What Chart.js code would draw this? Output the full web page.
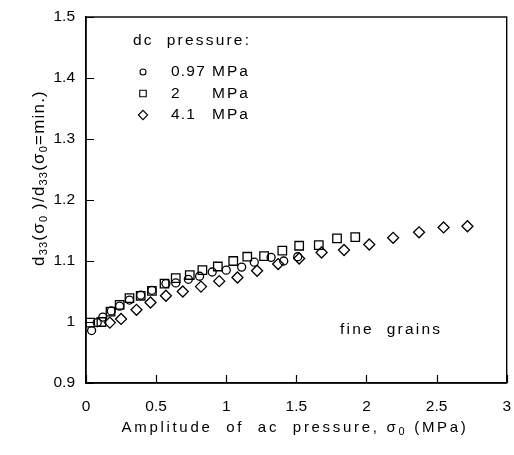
<!DOCTYPE html>
<html>
<head>
<meta charset="utf-8">
<script src="https://cdn.jsdelivr.net/npm/chart.js@4.4.1/dist/chart.umd.min.js"></script>
<style>
  html, body { margin: 0; padding: 0; background: #fff; }
</style>
</head>
<body>
<canvas id="chart" width="514" height="455"></canvas>
<script>
// dc pressure 0.97 MPa (circles)
const ac097 = [0.04, 0.08, 0.12, 0.18, 0.24, 0.31, 0.39, 0.47, 0.57, 0.64, 0.73, 0.81, 0.90, 1.00, 1.11, 1.20, 1.32, 1.41, 1.51];
const d097 = [0.986, 0.999, 1.008, 1.018, 1.026, 1.036, 1.044, 1.052, 1.063, 1.064, 1.070, 1.075, 1.082, 1.085, 1.090, 1.098, 1.106, 1.100, 1.107];

// dc pressure 2 MPa (squares)
const ac2 = [0.03, 0.11, 0.175, 0.24, 0.31, 0.39, 0.47, 0.56, 0.64, 0.74, 0.83, 0.94, 1.05, 1.15, 1.27, 1.40, 1.52, 1.66, 1.79, 1.92];
const d2 = [0.999, 1.000, 1.017, 1.028, 1.039, 1.043, 1.051, 1.063, 1.072, 1.077, 1.085, 1.091, 1.100, 1.107, 1.108, 1.117, 1.125, 1.126, 1.137, 1.139];

// dc pressure 4.1 MPa (diamonds)
const ac41 = [0.17, 0.25, 0.36, 0.46, 0.57, 0.69, 0.82, 0.95, 1.08, 1.22, 1.37, 1.52, 1.68, 1.84, 2.02, 2.19, 2.375, 2.55, 2.72];
const d41 = [0.999, 1.005, 1.020, 1.032, 1.043, 1.050, 1.058, 1.067, 1.073, 1.084, 1.095, 1.104, 1.114, 1.118, 1.127, 1.138, 1.147, 1.155, 1.157];

const seriesLabels = ['0.97 MPa', '2 MPa', '4.1 MPa'];
const xTicks = [0, 0.5, 1, 1.5, 2, 2.5, 3];
const yTicks = [0.9, 1, 1.1, 1.2, 1.3, 1.4, 1.5];

const FONT = "'Liberation Sans', Arial, Helvetica, sans-serif";
const INK = '#000';

function toPoints(xs, ys) {
  return xs.map((x, i) => ({ x: x, y: ys[i] }));
}

// draw a line of text made of normal and subscript pieces, centred on (x, y)
function drawRuns(ctx, runs, x, y, angle, size, subSize, spacing) {
  ctx.save();
  ctx.translate(x, y);
  ctx.rotate(angle);
  ctx.fillStyle = INK;
  ctx.textAlign = 'left';
  ctx.textBaseline = 'alphabetic';
  ctx.letterSpacing = spacing + 'px';
  let total = 0;
  runs.forEach(r => {
    ctx.font = (r.sub ? subSize : size) + 'px ' + FONT;
    total += ctx.measureText(r.t).width;
  });
  let cx = -total / 2;
  runs.forEach(r => {
    ctx.font = (r.sub ? subSize : size) + 'px ' + FONT;
    ctx.fillText(r.t, cx, r.sub ? 3 : 0);
    cx += ctx.measureText(r.t).width;
  });
  ctx.restore();
}

function drawText(ctx, text, x, y, size, spacing) {
  ctx.save();
  ctx.fillStyle = INK;
  ctx.font = size + 'px ' + FONT;
  ctx.letterSpacing = spacing + 'px';
  ctx.textAlign = 'left';
  ctx.textBaseline = 'middle';
  ctx.fillText(text, x, y);
  ctx.restore();
}

// frame, inward ticks, legend, titles and note
const decorPlugin = {
  id: 'decor',
  afterDraw(chart) {
    const ctx = chart.ctx;
    const a = chart.chartArea;
    const xs = chart.scales.x;
    const ys = chart.scales.y;

    ctx.save();
    ctx.strokeStyle = INK;
    ctx.lineWidth = 1.4;
    ctx.strokeRect(a.left, a.top, a.right - a.left, a.bottom - a.top);

    ctx.lineWidth = 1.2;
    ctx.beginPath();
    xTicks.forEach(v => {
      const px = Math.round(xs.getPixelForValue(v)) + 0.5;
      ctx.moveTo(px, a.bottom);
      ctx.lineTo(px, a.bottom - 8);
    });
    yTicks.forEach(v => {
      const py = Math.round(ys.getPixelForValue(v)) + 0.5;
      ctx.moveTo(a.left, py);
      ctx.lineTo(a.left + 8, py);
    });
    ctx.stroke();
    ctx.restore();

    // legend
    drawText(ctx, 'dc  pressure:', 133, 41, 15.5, 2.2);
    const h = Chart.helpers;
    chart.data.datasets.forEach((ds, i) => {
      const y = 72 + i * 21.5;
      ctx.save();
      ctx.strokeStyle = INK;
      ctx.fillStyle = 'rgba(0,0,0,0)';
      ctx.lineWidth = 1.1;
      h.drawPoint(ctx, {
        pointStyle: ds.pointStyle,
        radius: ds.pointStyle === 'circle' ? 3 : 4.6,
        rotation: 0,
        borderWidth: 1.1
      }, 143, y);
      ctx.restore();
      const parts = ds.label.split(' ');
      drawText(ctx, parts[0], 171, y, 15.5, 1.2);
      drawText(ctx, parts[1], 212, y, 15.5, 2);
    });

    drawText(ctx, 'fine  grains', 340, 330, 15.5, 2.2);

    // axis titles
    drawRuns(ctx, [
      { t: 'Amplitude  of  ac  pressure, σ' },
      { t: '0', sub: true },
      { t: ' (MPa)' }
    ], 295, 432, 0, 15, 11, 2.7);

    drawRuns(ctx, [
      { t: 'd' }, { t: '33', sub: true },
      { t: '(σ' }, { t: '0', sub: true },
      { t: ' )/d' }, { t: '33', sub: true },
      { t: '(σ' }, { t: '0', sub: true },
      { t: '=min.)' }
    ], 44, 178, -Math.PI / 2, 17, 11, 1.2);
  }
};

const markerStyle = {
  borderColor: INK,
  backgroundColor: 'rgba(0,0,0,0)',
  pointBorderWidth: 1.3,
  pointHoverRadius: 5
};

new Chart(document.getElementById('chart'), {
  type: 'scatter',
  data: {
    datasets: [
      Object.assign({ label: seriesLabels[0], data: toPoints(ac097, d097), pointStyle: 'circle', pointRadius: 4 }, markerStyle),
      Object.assign({ label: seriesLabels[1], data: toPoints(ac2, d2), pointStyle: 'rect', pointRadius: 6 }, markerStyle),
      Object.assign({ label: seriesLabels[2], data: toPoints(ac41, d41), pointStyle: 'rectRot', pointRadius: 5.5 }, markerStyle)
    ]
  },
  options: {
    responsive: false,
    animation: false,
    layout: { padding: { left: 0, top: 17, right: 6, bottom: 0 } },
    scales: {
      x: {
        type: 'linear',
        min: 0,
        max: 3,
        afterBuildTicks: s => { s.ticks = xTicks.map(v => ({ value: v })); },
        afterFit: s => { s.height = 72; s.paddingLeft = 0; s.paddingRight = 0; },
        grid: { display: false, drawTicks: false },
        border: { display: true, color: INK, width: 1.4 },
        ticks: {
          color: INK,
          padding: 14,
          font: { family: FONT, size: 15.5 },
          callback: v => String(v)
        }
      },
      y: {
        type: 'linear',
        min: 0.9,
        max: 1.5,
        afterBuildTicks: s => { s.ticks = yTicks.map(v => ({ value: v })); },
        afterFit: s => { s.width = 86; s.paddingTop = 0; s.paddingBottom = 0; },
        grid: { display: false, drawTicks: false },
        border: { display: true, color: INK, width: 1.4 },
        ticks: {
          color: INK,
          padding: 11,
          font: { family: FONT, size: 15.5 },
          callback: v => String(Math.round(v * 10) / 10)
        }
      }
    },
    plugins: {
      legend: { display: false },
      tooltip: { enabled: false }
    }
  },
  plugins: [decorPlugin]
});
</script>
</body>
</html>
